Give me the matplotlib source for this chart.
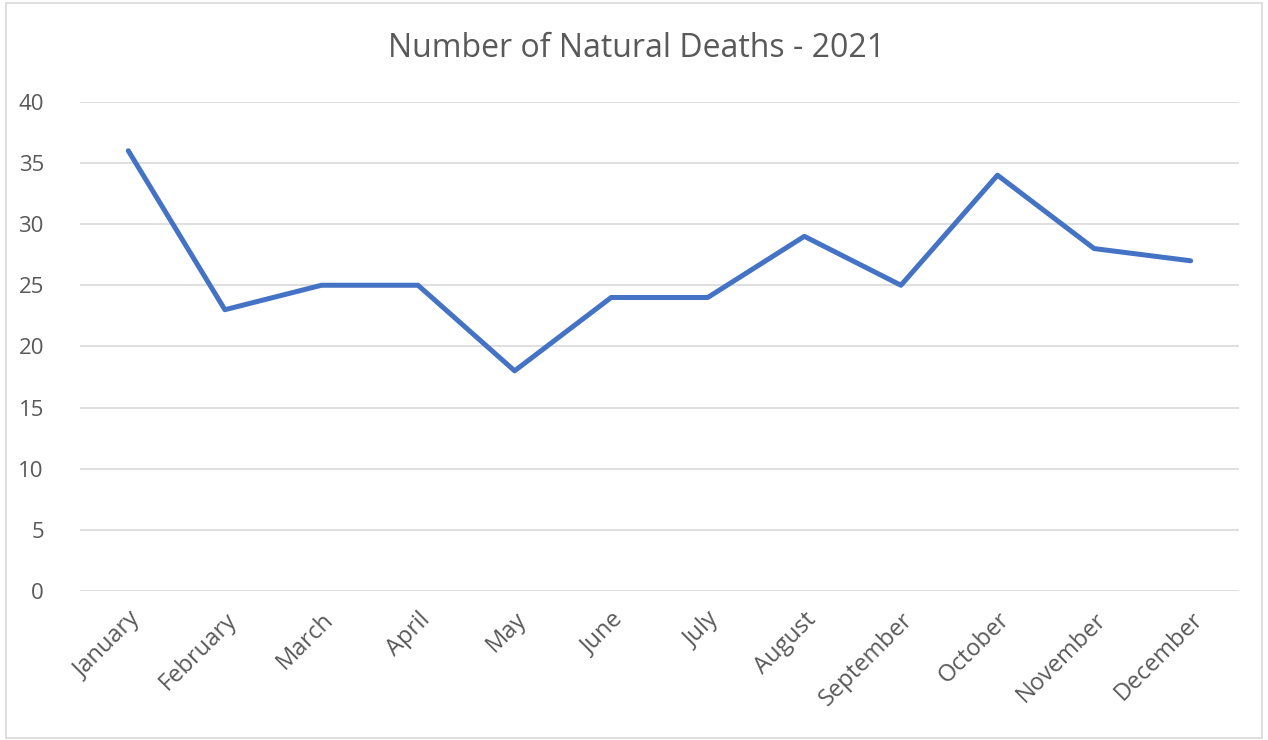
import matplotlib.pyplot as plt
from matplotlib.patches import Rectangle

# DATA
months = ['January', 'February', 'March', 'April', 'May', 'June', 'July',
          'August', 'September', 'October', 'November', 'December']
deaths = [36, 23, 25, 25, 18, 24, 24, 29, 25, 34, 28, 27]
yticks = [0, 5, 10, 15, 20, 25, 30, 35, 40]

plt.rcParams['font.family'] = ['Open Sans', 'DejaVu Sans']
text_col = '#595959'
grid_col = '#d9d9d9'

fig = plt.figure(figsize=(12.68, 7.4), dpi=100)
ax = fig.add_axes([0.0631, 0.2014, 0.914, 0.661])

x = list(range(len(months)))
ax.plot(x, deaths, color='#4472c4', linewidth=3.6, solid_joinstyle='round',
        solid_capstyle='round', zorder=3)

ax.set_xlim(-0.5, len(months) - 0.5)
ax.set_ylim(0, 40)
ax.set_yticks(yticks)
ax.set_xticks(x)
ax.set_xticklabels(months, rotation=45, ha='right', rotation_mode='anchor')
ax.tick_params(axis='x', length=0, labelsize=17, labelcolor=text_col, pad=12)
ax.tick_params(axis='y', length=0, labelsize=16, labelcolor=text_col, pad=26)
ax.grid(axis='y', color=grid_col, linewidth=1.2)
ax.set_axisbelow(True)
for s in ax.spines.values():
    s.set_visible(False)

fig.text(0.502, 0.934, 'Number of Natural Deaths - 2021', ha='center', va='center',
         fontsize=23, color=text_col)

# outer chart border
fig.patches.append(Rectangle((0.005, 0.003), 0.99, 0.993, transform=fig.transFigure,
                             fill=False, edgecolor='#d9d9d9', linewidth=1.2))

fig.savefig('out.png', dpi=100)
